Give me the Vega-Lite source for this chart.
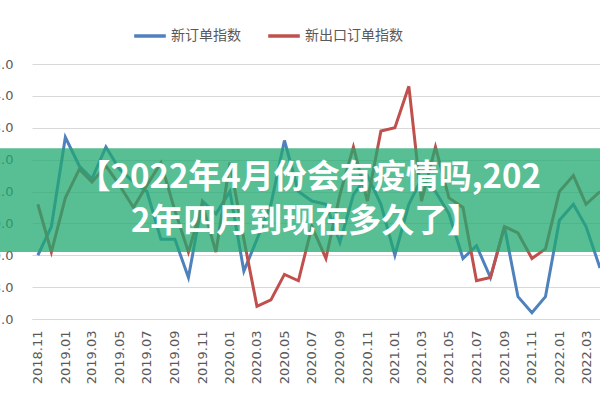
{
  "$schema": "https://vega.github.io/schema/vega-lite/v6.json",
  "width": 568,
  "height": 255,
  "autosize": {"type": "none"},
  "padding": {"left": 32, "top": 64, "right": 0, "bottom": 81},
  "background": "white",
  "datasets": {
    "series": [
      {"月份": "2018-11-01", "系列": "新订单指数", "指数": 49.0},
      {"月份": "2018-12-01", "系列": "新订单指数", "指数": 49.9},
      {"月份": "2019-01-01", "系列": "新订单指数", "指数": 52.7},
      {"月份": "2019-02-01", "系列": "新订单指数", "指数": 51.8},
      {"月份": "2019-03-01", "系列": "新订单指数", "指数": 51.4},
      {"月份": "2019-04-01", "系列": "新订单指数", "指数": 52.4},
      {"月份": "2019-05-01", "系列": "新订单指数", "指数": 51.7},
      {"月份": "2019-06-01", "系列": "新订单指数", "指数": 51.3},
      {"月份": "2019-07-01", "系列": "新订单指数", "指数": 51.0},
      {"月份": "2019-08-01", "系列": "新订单指数", "指数": 49.5},
      {"月份": "2019-09-01", "系列": "新订单指数", "指数": 49.5},
      {"月份": "2019-10-01", "系列": "新订单指数", "指数": 48.3},
      {"月份": "2019-11-01", "系列": "新订单指数", "指数": 50.7},
      {"月份": "2019-12-01", "系列": "新订单指数", "指数": 50.3},
      {"月份": "2020-01-01", "系列": "新订单指数", "指数": 51.0},
      {"月份": "2020-02-01", "系列": "新订单指数", "指数": 48.5},
      {"月份": "2020-03-01", "系列": "新订单指数", "指数": 49.5},
      {"月份": "2020-04-01", "系列": "新订单指数", "指数": 50.6},
      {"月份": "2020-05-01", "系列": "新订单指数", "指数": 52.6},
      {"月份": "2020-06-01", "系列": "新订单指数", "指数": 51.0},
      {"月份": "2020-07-01", "系列": "新订单指数", "指数": 50.7},
      {"月份": "2020-08-01", "系列": "新订单指数", "指数": 50.6},
      {"月份": "2020-09-01", "系列": "新订单指数", "指数": 49.4},
      {"月份": "2020-10-01", "系列": "新订单指数", "指数": 50.9},
      {"月份": "2020-11-01", "系列": "新订单指数", "指数": 51.5},
      {"月份": "2020-12-01", "系列": "新订单指数", "指数": 50.6},
      {"月份": "2021-01-01", "系列": "新订单指数", "指数": 49.0},
      {"月份": "2021-02-01", "系列": "新订单指数", "指数": 50.6},
      {"月份": "2021-03-01", "系列": "新订单指数", "指数": 51.4},
      {"月份": "2021-04-01", "系列": "新订单指数", "指数": 51.0},
      {"月份": "2021-05-01", "系列": "新订单指数", "指数": 50.3},
      {"月份": "2021-06-01", "系列": "新订单指数", "指数": 48.9},
      {"月份": "2021-07-01", "系列": "新订单指数", "指数": 49.3},
      {"月份": "2021-08-01", "系列": "新订单指数", "指数": 48.3},
      {"月份": "2021-09-01", "系列": "新订单指数", "指数": 49.9},
      {"月份": "2021-10-01", "系列": "新订单指数", "指数": 47.7},
      {"月份": "2021-11-01", "系列": "新订单指数", "指数": 47.2},
      {"月份": "2021-12-01", "系列": "新订单指数", "指数": 47.7},
      {"月份": "2022-01-01", "系列": "新订单指数", "指数": 50.1},
      {"月份": "2022-02-01", "系列": "新订单指数", "指数": 50.6},
      {"月份": "2022-03-01", "系列": "新订单指数", "指数": 49.9},
      {"月份": "2022-04-01", "系列": "新订单指数", "指数": 48.6},
      {"月份": "2018-11-01", "系列": "新出口订单指数", "指数": 50.6},
      {"月份": "2018-12-01", "系列": "新出口订单指数", "指数": 49.1},
      {"月份": "2019-01-01", "系列": "新出口订单指数", "指数": 50.8},
      {"月份": "2019-02-01", "系列": "新出口订单指数", "指数": 51.7},
      {"月份": "2019-03-01", "系列": "新出口订单指数", "指数": 51.3},
      {"月份": "2019-04-01", "系列": "新出口订单指数", "指数": 51.8},
      {"月份": "2019-05-01", "系列": "新出口订单指数", "指数": 51.2},
      {"月份": "2019-06-01", "系列": "新出口订单指数", "指数": 50.5},
      {"月份": "2019-07-01", "系列": "新出口订单指数", "指数": 51.2},
      {"月份": "2019-08-01", "系列": "新出口订单指数", "指数": 51.9},
      {"月份": "2019-09-01", "系列": "新出口订单指数", "指数": 50.4},
      {"月份": "2019-10-01", "系列": "新出口订单指数", "指数": 49.1},
      {"月份": "2019-11-01", "系列": "新出口订单指数", "指数": 50.6},
      {"月份": "2019-12-01", "系列": "新出口订单指数", "指数": 49.1},
      {"月份": "2020-01-01", "系列": "新出口订单指数", "指数": 51.9},
      {"月份": "2020-02-01", "系列": "新出口订单指数", "指数": 49.5},
      {"月份": "2020-03-01", "系列": "新出口订单指数", "指数": 47.4},
      {"月份": "2020-04-01", "系列": "新出口订单指数", "指数": 47.6},
      {"月份": "2020-05-01", "系列": "新出口订单指数", "指数": 48.4},
      {"月份": "2020-06-01", "系列": "新出口订单指数", "指数": 48.2},
      {"月份": "2020-07-01", "系列": "新出口订单指数", "指数": 49.9},
      {"月份": "2020-08-01", "系列": "新出口订单指数", "指数": 48.9},
      {"月份": "2020-09-01", "系列": "新出口订单指数", "指数": 50.9},
      {"月份": "2020-10-01", "系列": "新出口订单指数", "指数": 52.4},
      {"月份": "2020-11-01", "系列": "新出口订单指数", "指数": 50.7},
      {"月份": "2020-12-01", "系列": "新出口订单指数", "指数": 52.9},
      {"月份": "2021-01-01", "系列": "新出口订单指数", "指数": 53.0},
      {"月份": "2021-02-01", "系列": "新出口订单指数", "指数": 54.3},
      {"月份": "2021-03-01", "系列": "新出口订单指数", "指数": 50.7},
      {"月份": "2021-04-01", "系列": "新出口订单指数", "指数": 52.4},
      {"月份": "2021-05-01", "系列": "新出口订单指数", "指数": 50.8},
      {"月份": "2021-06-01", "系列": "新出口订单指数", "指数": 50.5},
      {"月份": "2021-07-01", "系列": "新出口订单指数", "指数": 48.2},
      {"月份": "2021-08-01", "系列": "新出口订单指数", "指数": 48.3},
      {"月份": "2021-09-01", "系列": "新出口订单指数", "指数": 49.9},
      {"月份": "2021-10-01", "系列": "新出口订单指数", "指数": 49.7},
      {"月份": "2021-11-01", "系列": "新出口订单指数", "指数": 48.9},
      {"月份": "2021-12-01", "系列": "新出口订单指数", "指数": 49.2},
      {"月份": "2022-01-01", "系列": "新出口订单指数", "指数": 51.0},
      {"月份": "2022-02-01", "系列": "新出口订单指数", "指数": 51.5},
      {"月份": "2022-03-01", "系列": "新出口订单指数", "指数": 50.6},
      {"月份": "2022-04-01", "系列": "新出口订单指数", "指数": 51.0}
    ]
  },
  "layer": [
    {
      "data": {"name": "series"},
      "mark": {"type": "line", "strokeWidth": 3},
      "encoding": {
        "x": {
          "field": "月份",
          "type": "temporal",
          "scale": {
            "type": "utc",
            "domain": [
              {"year": 2018, "month": 10, "date": 19, "utc": true},
              {"year": 2022, "month": 4, "date": 1, "utc": true}
            ]
          },
          "axis": {
            "title": null,
            "format": "%Y.%m",
            "tickCount": {"interval": "month", "step": 2},
            "labelAngle": 270,
            "labelPadding": 11,
            "labelOverlap": false,
            "ticks": false,
            "grid": false,
            "domainColor": "#d9d9d9",
            "labelFont": "DejaVu Sans",
            "labelFontSize": 13,
            "labelColor": "#595959"
          }
        },
        "y": {
          "field": "指数",
          "type": "quantitative",
          "scale": {"domain": [47, 55], "nice": false, "zero": false},
          "axis": {
            "title": null,
            "values": [47, 48, 49, 50, 51, 52, 53, 54, 55],
            "format": ".1f",
            "domain": false,
            "ticks": false,
            "labelOverlap": false,
            "labelPadding": 19,
            "gridColor": "#d9d9d9",
            "labelFont": "DejaVu Sans",
            "labelFontSize": 13,
            "labelColor": "#595959"
          }
        },
        "color": {
          "field": "系列",
          "type": "nominal",
          "sort": ["新订单指数", "新出口订单指数"],
          "scale": {"domain": ["新订单指数", "新出口订单指数"], "range": ["#4F81BD", "#C0504D"]},
          "legend": {
            "title": null,
            "orient": "none",
            "legendX": 100,
            "legendY": -46,
            "direction": "horizontal",
            "symbolType": "stroke",
            "symbolSize": 1000,
            "symbolStrokeWidth": 3.5,
            "columnPadding": 20,
            "labelOffset": 3,
            "labelFont": "Noto Sans CJK SC",
            "labelFontSize": 14,
            "labelColor": "#595959",
            "labelLimit": 300
          }
        }
      }
    },
    {
      "data": {"values": [{"横幅": "banner"}]},
      "mark": {"type": "rect", "color": "#20a870", "opacity": 0.75},
      "encoding": {
        "x": {"datum": {"year": 2018, "month": 8, "date": 1, "utc": true}, "type": "temporal",
          "axis": {"title": null, "format": "%Y.%m", "tickCount": {"interval": "month", "step": 2}, "labelAngle": 270, "labelPadding": 11, "labelOverlap": false, "ticks": false, "grid": false, "domainColor": "#d9d9d9", "labelFont": "DejaVu Sans", "labelFontSize": 13, "labelColor": "#595959"}},
        "x2": {"datum": {"year": 2022, "month": 6, "date": 1, "utc": true}},
        "y": {"datum": 52.36, "type": "quantitative",
          "axis": {"title": null, "values": [47, 48, 49, 50, 51, 52, 53, 54, 55], "format": ".1f", "domain": false, "ticks": false, "labelOverlap": false, "labelPadding": 19, "gridColor": "#d9d9d9", "labelFont": "DejaVu Sans", "labelFontSize": 13, "labelColor": "#595959"}},
        "y2": {"datum": 49.1}
      }
    },
    {
      "data": {"values": [{"标题": "【2022年4月份会有疫情吗,202"}]},
      "mark": {"type": "text", "font": "Noto Sans CJK SC", "fontSize": 33, "fontWeight": "bold", "color": "white", "align": "center", "baseline": "middle"},
      "encoding": {
        "x": {"datum": {"year": 2020, "month": 6, "date": 25, "utc": true}, "type": "temporal",
          "axis": {"title": null, "format": "%Y.%m", "tickCount": {"interval": "month", "step": 2}, "labelAngle": 270, "labelPadding": 11, "labelOverlap": false, "ticks": false, "grid": false, "domainColor": "#d9d9d9", "labelFont": "DejaVu Sans", "labelFontSize": 13, "labelColor": "#595959"}},
        "y": {"datum": 51.42, "type": "quantitative",
          "axis": {"title": null, "values": [47, 48, 49, 50, 51, 52, 53, 54, 55], "format": ".1f", "domain": false, "ticks": false, "labelOverlap": false, "labelPadding": 19, "gridColor": "#d9d9d9", "labelFont": "DejaVu Sans", "labelFontSize": 13, "labelColor": "#595959"}},
        "text": {"field": "标题"}
      }
    },
    {
      "data": {"values": [{"标题": "2年四月到现在多久了】"}]},
      "mark": {"type": "text", "font": "Noto Sans CJK SC", "fontSize": 33, "fontWeight": "bold", "color": "white", "align": "center", "baseline": "middle"},
      "encoding": {
        "x": {"datum": {"year": 2020, "month": 6, "date": 17, "utc": true}, "type": "temporal",
          "axis": {"title": null, "format": "%Y.%m", "tickCount": {"interval": "month", "step": 2}, "labelAngle": 270, "labelPadding": 11, "labelOverlap": false, "ticks": false, "grid": false, "domainColor": "#d9d9d9", "labelFont": "DejaVu Sans", "labelFontSize": 13, "labelColor": "#595959"}},
        "y": {"datum": 50.04, "type": "quantitative",
          "axis": {"title": null, "values": [47, 48, 49, 50, 51, 52, 53, 54, 55], "format": ".1f", "domain": false, "ticks": false, "labelOverlap": false, "labelPadding": 19, "gridColor": "#d9d9d9", "labelFont": "DejaVu Sans", "labelFontSize": 13, "labelColor": "#595959"}},
        "text": {"field": "标题"}
      }
    }
  ],
  "config": {"view": {"stroke": null}}
}
